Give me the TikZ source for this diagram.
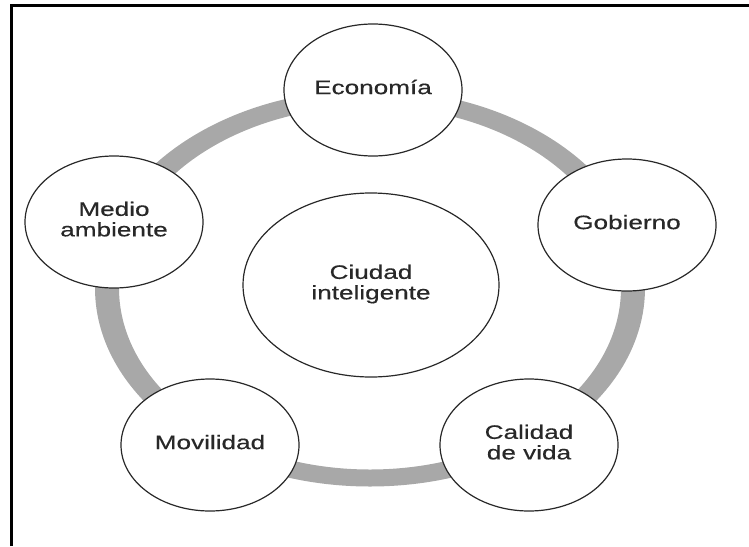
\documentclass[tikz,border=0pt]{standalone}
\usepackage{fontspec}
\setmainfont{Liberation Sans}
\newfontface\lblfont{Liberation Sans}[FakeBold=0.35]
\usetikzlibrary{shapes.geometric}
\definecolor{ringgray}{RGB}{168,168,168}
\definecolor{inkc}{RGB}{40,40,40}
\newcommand{\sxt}[1]{\scalebox{1.34}[1]{\lblfont\fontsize{19.5pt}{20.5pt}\selectfont\begin{tabular}{@{}c@{}}#1\end{tabular}}}
\tikzset{
  topic/.style={ellipse, draw=inkc, line width=1.2pt, fill=white, inner sep=0pt,
    minimum width=178pt, minimum height=132pt, text=inkc},
  hub/.style={topic, minimum width=256pt, minimum height=184pt},
  frameline/.style={line width=3pt, black}
}
\begin{document}
\begin{tikzpicture}[x=1pt,y=-1pt]
\useasboundingbox (0,0) rectangle (749,546);
% frame
\coordinate (fa) at (11.5,546);
\coordinate (fb) at (11.5,5);
\coordinate (fc) at (749,5);
\draw[frameline] (fa) -- (fb) -- (fc);
% ring
\coordinate (rc) at (370,288);
\fill[ringgray, even odd rule] (rc) ellipse [x radius=275pt, y radius=198.5pt]
      (rc) ellipse [x radius=251pt, y radius=181.5pt];
% nodes
\node[hub] (ciudad) at (371,285) {\sxt{Ciudad\\inteligente}};
\node[topic] (eco) at (373,90) {\sxt{Economía}};
\node[topic] (gob) at (627,225) {\sxt{Gobierno}};
\node[topic] (cal) at (529,445) {\sxt{Calidad\\de vida}};
\node[topic] (mov) at (210,445) {\sxt{Movilidad}};
\node[topic] (med) at (114,222) {\sxt{Medio\\ambiente}};
\end{tikzpicture}
\end{document}
